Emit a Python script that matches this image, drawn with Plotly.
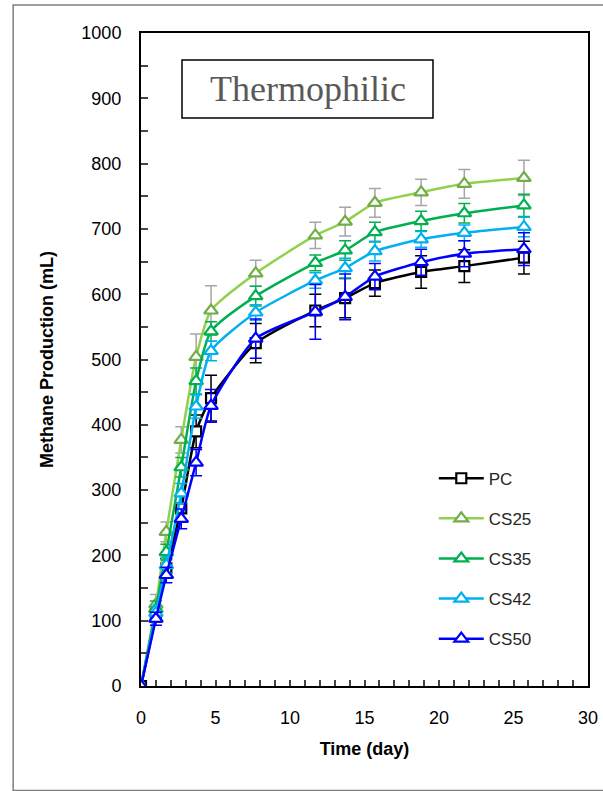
import plotly.graph_objects as go

# ---- data ----
days = [0, 1, 1.7, 2.7, 3.7, 4.7, 7.7, 11.7, 13.7, 15.7, 18.8, 21.7, 25.7]
series_names = ["PC", "CS25", "CS35", "CS42", "CS50"]
pc = [0, 108, 180, 272, 390, 441, 525, 575, 594, 617, 634, 643, 656]
cs25 = [0, 125, 236, 377, 504, 575, 632, 690, 711, 740, 756, 769, 778]
cs35 = [0, 118, 205, 335, 467, 543, 597, 648, 667, 695, 712, 724, 736]
cs42 = [0, 112, 185, 295, 428, 513, 572, 621, 640, 666, 684, 694, 703]
cs50 = [0, 103, 170, 256, 342, 429, 532, 573, 596, 627, 649, 662, 669]
pc_err = [0, 10, 15, 20, 25, 35, 30, 25, 30, 20, 25, 25, 25]
cs25_err = [0, 15, 15, 20, 35, 38, 20, 20, 22, 22, 20, 22, 27]
cs35_err = [0, 12, 12, 15, 20, 15, 15, 12, 15, 15, 15, 15, 17]
cs42_err = [0, 10, 12, 15, 18, 15, 12, 12, 15, 15, 12, 12, 15]
cs50_err = [0, 10, 12, 15, 20, 25, 30, 42, 35, 20, 20, 20, 25]
x_ticks = [0, 5, 10, 15, 20, 25, 30]
y_ticks = [0, 100, 200, 300, 400, 500, 600, 700, 800, 900, 1000]
panel_label = "Thermophilic"

values = [pc, cs25, cs35, cs42, cs50]
errors = [pc_err, cs25_err, cs35_err, cs42_err, cs50_err]
line_colors = ["#000000", "#92d050", "#00b050", "#00b0f0", "#0000ff"]
marker_edges = ["#000000", "#70ad47", "#00b050", "#00b0f0", "#0000ff"]
err_colors = ["#000000", "#a6a6a6", "#00b050", "#00b0f0", "#0000ff"]

fig = go.Figure()
for i, name in enumerate(series_names):
    fig.add_trace(go.Scatter(
        x=days, y=values[i], name=name, mode="lines+markers",
        legendgroup=name,
        line=dict(color=line_colors[i], width=2.5, shape="spline", smoothing=0.6),
        marker=dict(symbol="square" if i == 0 else "triangle-up", size=12 if i else 10,
                    color="white", line=dict(color=marker_edges[i], width=2.2)),
        error_y=dict(type="data", array=errors[i], color=err_colors[i], thickness=1.5, width=6),
    ))

fig.update_layout(
    width=603, height=791,
    margin=dict(l=141, r=15, t=33, b=105),
    paper_bgcolor="white", plot_bgcolor="white",
    font=dict(family="Liberation Sans, Arial, sans-serif", size=16, color="#000000"),
    showlegend=True,
    legend=dict(x=0.655, y=0.345, xanchor="left", yanchor="top",
                font=dict(size=17, color="#262626"), tracegroupgap=15,
                bgcolor="rgba(0,0,0,0)", itemwidth=45),
    xaxis=dict(range=[0, 30], tickvals=x_ticks, ticks="inside", ticklen=6, tickwidth=2,
               showline=True, linecolor="black", linewidth=2, mirror=True, showgrid=False,
               zeroline=False, automargin=False, ticklabelstandoff=14,
               minor=dict(dtick=1, ticks="inside", ticklen=6, tickwidth=2, showgrid=False),
               tickfont=dict(size=18, color="#000000"),
               title=dict(text="<b>Time (day)</b>", font=dict(size=18), standoff=16)),
    yaxis=dict(range=[0, 1000], tickvals=y_ticks, ticks="inside", ticklen=7, tickwidth=2,
               showline=True, linecolor="black", linewidth=2, mirror=True, showgrid=False,
               zeroline=False, automargin=False, ticklabelstandoff=14,
               minor=dict(dtick=50, ticks="inside", ticklen=7, tickwidth=2, showgrid=False),
               tickfont=dict(size=18, color="#000000"),
               title=dict(text="<b>Methane Production (mL)</b>", font=dict(size=18), standoff=23)),
)

# outer frame of the figure (left, top, bottom edges; right edge lies outside the view)
fx0, fx1, fy0, fy1 = -0.286, 1.3, -0.16, 1.043
fig.add_shape(type="path", xref="paper", yref="paper",
              path=f"M {fx1},{fy1} L {fx0},{fy1} L {fx0},{fy0} L {fx1},{fy0}",
              line=dict(color="#7f7f7f", width=1.5), layer="below")

# panel label box
fig.add_shape(type="rect", xref="paper", yref="paper",
              x0=(182 - 141) / 447, x1=(433 - 141) / 447,
              y0=(686 - 118) / 653, y1=(686 - 60) / 653,
              line=dict(color="#000000", width=1.5), fillcolor="white")
fig.add_annotation(xref="paper", yref="paper",
                   x=((182 + 433) / 2 - 141) / 447, y=(686 - 89) / 653,
                   xanchor="center", yanchor="middle",
                   text=panel_label, showarrow=False,
                   font=dict(family="Liberation Serif, Times New Roman, serif", size=36, color="#595959"))

fig.write_html("out.html", config={"displayModeBar": False},
               post_script="document.body.style.margin='0px';")
